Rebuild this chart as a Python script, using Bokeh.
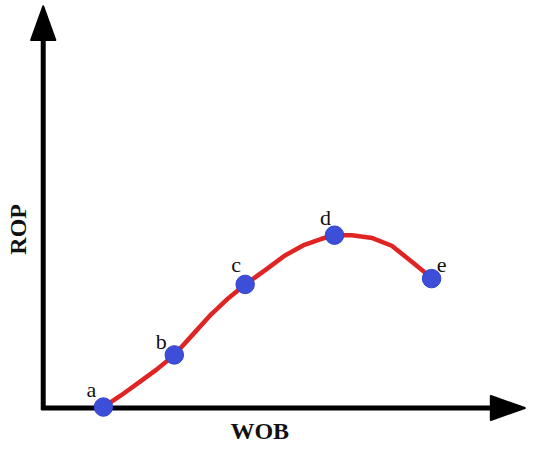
import math
from bokeh.plotting import figure
from bokeh.models import ColumnDataSource, Range1d, Label
from bokeh.core.properties import value
from bokeh.embed import file_html
from bokeh.resources import INLINE

# ---- data (arbitrary units) ----
point_labels = ["a", "b", "c", "d", "e"]
point_wob = [62, 135, 208, 300, 400]
point_rop = [1, 55, 128, 179, 134]
label_dx = [-12, -13, -9, -9, 10]
label_dy = [18, 13, 20, 18, 14]

curve_wob = [62, 80, 98, 117, 135, 154, 173, 191, 208, 229, 249, 269,
             286, 300, 318, 339, 359, 379, 390, 400]
curve_rop = [1, 13, 26, 40, 55, 76, 97, 114, 128, 143, 158, 169,
             175, 179, 179, 176, 168, 152, 143, 134]

x_axis_end = 496
y_axis_end = 416
head_len = 35
head_half = 12.5

fig = figure(width=534, height=450, output_backend="svg", toolbar_location=None,
             x_range=Range1d(-44, 506), y_range=Range1d(-44, 422),
             x_axis_type=None, y_axis_type=None, min_border=0)
fig.grid.visible = False
fig.outline_line_color = None
fig.background_fill_color = "white"
fig.border_fill_color = "white"

# axes lines
fig.segment(x0=[-2, 0], y0=[0, -2], x1=[x_axis_end - head_len + 2, 0],
            y1=[0, y_axis_end - head_len + 2], line_color="black", line_width=5)
# arrow heads
fig.patches(xs=[[0, -head_half, head_half],
                [x_axis_end, x_axis_end - head_len, x_axis_end - head_len]],
            ys=[[y_axis_end, y_axis_end - head_len, y_axis_end - head_len],
                [0, head_half, -head_half]],
            fill_color="black", line_color="black", line_width=2, line_join="round")

# curve
fig.line(curve_wob, curve_rop, line_color="#e02424", line_width=4.5,
         line_cap="round", line_join="round")

src = ColumnDataSource(dict(x=point_wob, y=point_rop, t=point_labels,
                            dx=label_dx, dy=[-d for d in label_dy]))
fig.scatter("x", "y", source=src, size=18.5, fill_color="#3d4ed8",
            line_color="#3344cc", line_width=1)
fig.text("x", "y", text="t", source=src, x_offset="dx", y_offset="dy",
         text_font=value("Liberation Serif"), text_font_size="22px",
         text_align="center", text_baseline="middle", text_color="#111111")

fig.add_layout(Label(x=223, y=-24, text="WOB", text_font="Liberation Serif",
                     text_font_style="bold", text_font_size="24px",
                     text_align="center", text_baseline="middle", text_color="#111111"))
fig.add_layout(Label(x=-26, y=185, text="ROP", angle=math.pi / 2,
                     text_font="Liberation Serif",
                     text_font_style="bold", text_font_size="24px",
                     text_align="center", text_baseline="middle", text_color="#111111"))

open("out.html", "w").write(file_html(fig, INLINE))
